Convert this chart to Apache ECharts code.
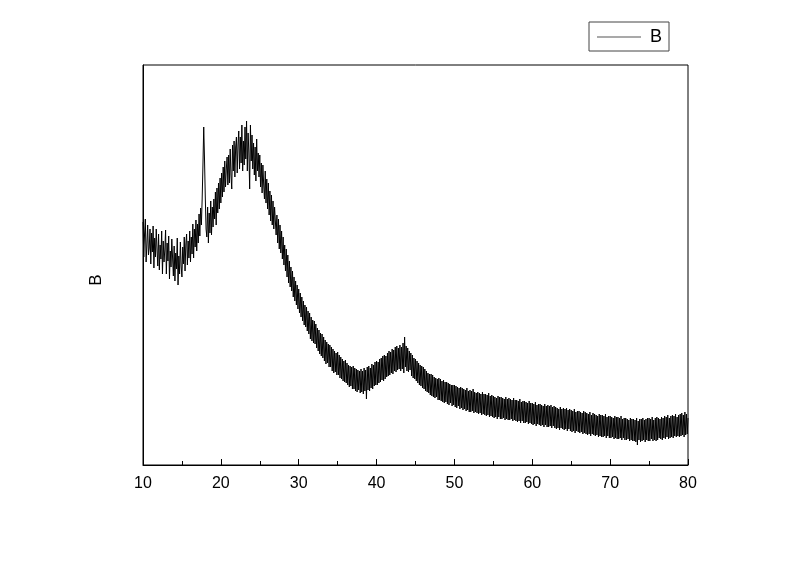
<!DOCTYPE html>
<html>
<head>
<meta charset="utf-8">
<script src="https://cdn.jsdelivr.net/npm/echarts@6/dist/echarts.min.js"></script>
<style>
  html, body { margin: 0; padding: 0; background: #fff; }
  #chart { width: 800px; height: 561px; }
</style>
</head>
<body>
<div id="chart"></div>
<script>
// 2theta grid: 10 to 80, step 0.1
const startAngle = 10
const stepAngle = 0.1

// intensity (arbitrary units), one row = 1 degree
const intensity = [
  243, 208, 231, 246, 203, 221, 240, 210, 217, 236,
  201, 232, 213, 239, 197, 227, 208, 236, 216, 199,
  231, 195, 220, 206, 234, 191, 224, 203, 215, 235,
  191, 222, 204, 229, 186, 214, 198, 226, 207, 189,
  219, 184, 212, 196, 227, 180, 209, 191, 223, 199,
  188, 218, 201, 228, 194, 221, 231, 200, 224, 207,
  234, 203, 228, 211, 241, 207, 236, 218, 245, 214,
  241, 222, 251, 229, 257, 240, 266, 300, 338, 306,
  268, 236, 228, 258, 222, 252, 232, 264, 230, 258,
  238, 266, 246, 273, 240, 277, 252, 282, 256, 287,
  262, 292, 268, 298, 273, 304, 278, 296, 308, 280,
  310, 282, 316, 290, 276, 320, 294, 324, 288, 318,
  328, 292, 320, 334, 296, 328, 302, 340, 294, 324,
  300, 338, 306, 344, 294, 332, 312, 276, 340, 304,
  330, 296, 322, 290, 318, 284, 326, 294, 312, 288,
  310, 278, 302, 272, 300, 280, 266, 294, 262, 286,
  256, 282, 250, 274, 244, 270, 240, 264, 236, 258,
  256, 230, 250, 222, 246, 216, 240, 212, 234, 206,
  228, 200, 220, 194, 216, 188, 210, 182, 204, 178,
  198, 174, 194, 168, 188, 164, 184, 160, 180, 156,
  176, 152, 172, 148, 168, 144, 164, 140, 160, 138,
  158, 134, 154, 131, 152, 126, 148, 124, 145, 122,
  144, 121, 141, 117, 137, 114, 135, 111, 132, 109,
  131, 107, 128, 104, 125, 101, 123, 102, 121, 98,
  120, 98, 118, 94, 116, 92, 114, 93, 112, 90,
  113, 90, 110, 87, 108, 86, 106, 84, 104, 83,
  105, 82, 102, 80, 100, 78, 99, 79, 98, 76,
  99, 76, 97, 74, 96, 73, 95, 75, 94, 72,
  96, 73, 94, 71, 97, 74, 95, 66, 98, 75,
  99, 74, 97, 77, 101, 76, 100, 79, 103, 80,
  104, 80, 103, 82, 106, 83, 107, 85, 109, 84,
  110, 86, 109, 88, 112, 89, 114, 90, 113, 92,
  116, 91, 115, 94, 118, 93, 119, 95, 117, 96,
  120, 94, 118, 96, 122, 92, 128, 98, 119, 94,
  117, 93, 114, 95, 112, 89, 110, 87, 107, 86,
  106, 84, 104, 82, 102, 80, 100, 79, 99, 77,
  98, 76, 96, 74, 94, 73, 92, 72, 91, 70,
  91, 69, 90, 68, 88, 67, 87, 68, 86, 65,
  87, 65, 86, 64, 84, 63, 85, 62, 83, 63,
  83, 61, 82, 60, 81, 62, 80, 59, 80, 60,
  80, 58, 79, 57, 78, 59, 77, 56, 78, 57,
  77, 55, 76, 56, 75, 54, 77, 55, 74, 53,
  75, 53, 74, 54, 76, 52, 73, 53, 72, 52,
  73, 51, 72, 52, 71, 50, 73, 51, 71, 50,
  71, 49, 70, 50, 72, 48, 69, 49, 70, 48,
  69, 47, 68, 48, 67, 46, 69, 48, 68, 46,
  68, 46, 67, 47, 66, 45, 68, 46, 66, 45,
  67, 45, 66, 46, 65, 44, 67, 45, 65, 44,
  65, 43, 64, 44, 66, 42, 63, 44, 64, 42,
  64, 42, 63, 43, 62, 41, 64, 42, 62, 41,
  62, 40, 61, 41, 63, 39, 60, 41, 61, 40,
  61, 39, 60, 40, 59, 38, 61, 40, 59, 38,
  60, 38, 59, 39, 60, 37, 58, 39, 59, 37,
  58, 36, 57, 37, 56, 35, 58, 37, 56, 36,
  57, 35, 56, 36, 57, 34, 55, 36, 56, 34,
  55, 33, 54, 34, 56, 32, 53, 34, 54, 33,
  54, 32, 53, 33, 52, 31, 54, 32, 53, 31,
  52, 30, 51, 31, 53, 29, 50, 31, 52, 30,
  51, 29, 50, 30, 49, 28, 51, 29, 50, 28,
  50, 28, 49, 29, 51, 27, 48, 29, 49, 27,
  49, 27, 48, 28, 47, 26, 49, 27, 48, 26,
  48, 26, 47, 27, 49, 25, 46, 27, 47, 25,
  47, 25, 46, 26, 45, 24, 47, 25, 46, 24,
  46, 24, 45, 23, 47, 20, 44, 25, 46, 23,
  46, 24, 47, 25, 45, 23, 46, 25, 47, 24,
  47, 24, 46, 26, 48, 24, 45, 25, 47, 24,
  48, 25, 47, 27, 46, 26, 48, 25, 47, 27,
  49, 26, 48, 28, 50, 26, 47, 27, 49, 28,
  50, 27, 49, 29, 51, 28, 48, 29, 50, 28,
  51, 29, 52, 30, 50, 28, 53, 30, 51, 31,
  47
]

const points = intensity.map((v, i) => [+(startAngle + i * stepAngle).toFixed(1), v])

const chart = echarts.init(document.getElementById('chart'))

chart.setOption({
  backgroundColor: '#fff',
  animation: false,
  textStyle: { fontFamily: 'Liberation Sans, Arial, sans-serif' },
  grid: {
    left: 143, right: 112, top: 65, bottom: 96,
    show: true, borderColor: '#000', borderWidth: 1
  },
  legend: {
    left: 589, top: 22,
    padding: [6, 7, 5, 8],
    borderColor: '#444', borderWidth: 1,
    itemWidth: 44, itemHeight: 1,
    textStyle: { fontSize: 18, color: '#000', padding: [0, 0, 0, 4] },
    data: [{ name: 'B', icon: 'rect' }]
  },
  graphic: [
    {
      type: 'text',
      x: 96, y: 280,
      rotation: Math.PI / 2,
      style: {
        text: 'B', fill: '#000', fontSize: 17,
        fontFamily: 'Liberation Sans, Arial, sans-serif',
        align: 'center', verticalAlign: 'middle'
      }
    }
  ],
  xAxis: {
    type: 'value',
    min: 10, max: 80, interval: 10,
    axisLine: { onZero: false, lineStyle: { color: '#000', width: 1 } },
    axisTick: { inside: true, length: 6, lineStyle: { color: '#000' } },
    minorTick: { show: true, splitNumber: 2, length: 4, lineStyle: { color: '#000' } },
    axisLabel: { color: '#000', fontSize: 16, margin: 11 },
    splitLine: { show: false }
  },
  yAxis: {
    type: 'value',
    min: 0, max: 400,
    axisLine: { show: true, lineStyle: { color: '#000', width: 1 } },
    axisTick: { show: false },
    axisLabel: { show: false },
    splitLine: { show: false }
  },
  series: [
    {
      name: 'B',
      type: 'line',
      symbol: 'none',
      lineStyle: { color: '#000', width: 1 },
      itemStyle: { color: '#555' },
      data: points
    }
  ]
})
</script>
</body>
</html>
